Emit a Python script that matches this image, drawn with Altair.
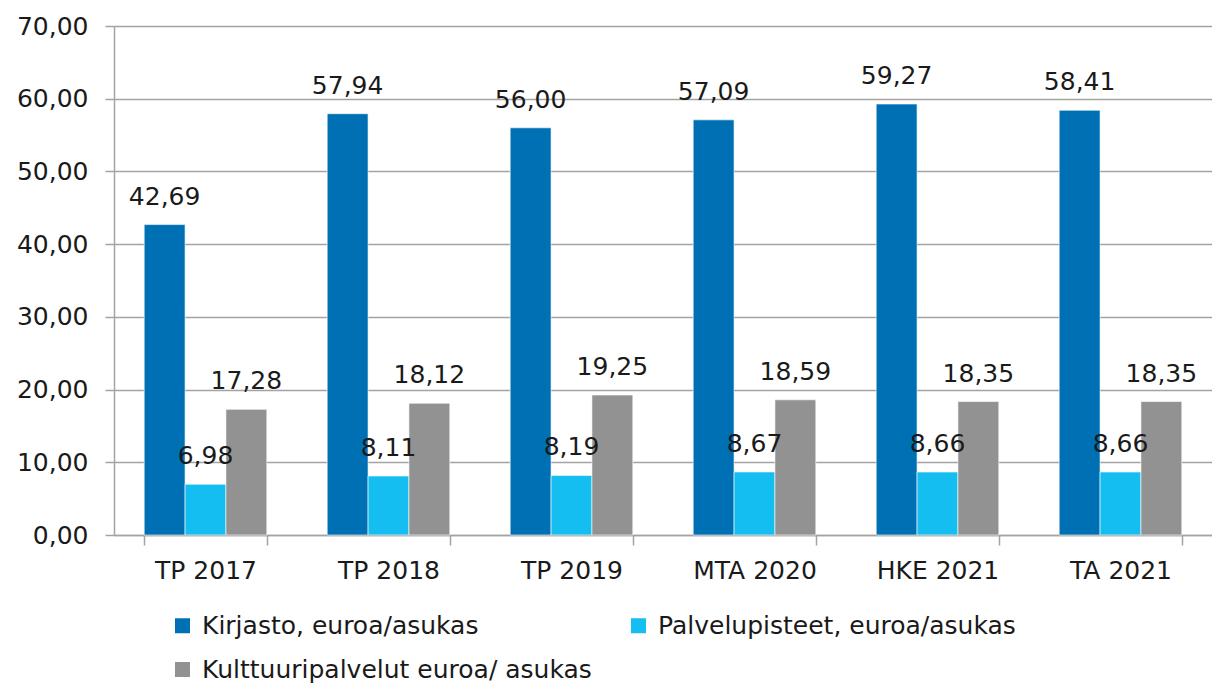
import altair as alt
import pandas as pd

categories = ["TP 2017", "TP 2018", "TP 2019", "MTA 2020", "HKE 2021", "TA 2021"]
series = ["Kirjasto, euroa/asukas", "Palvelupisteet, euroa/asukas", "Kulttuuripalvelut euroa/ asukas"]
kirjasto = [42.69, 57.94, 56.00, 57.09, 59.27, 58.41]
palvelupisteet = [6.98, 8.11, 8.19, 8.67, 8.66, 8.66]
kulttuuri = [17.28, 18.12, 19.25, 18.59, 18.35, 18.35]
colors = ["#0070B5", "#14BEF0", "#929292"]
y_ticks = [0, 10, 20, 30, 40, 50, 60, 70]

rows = []
for i, c in enumerate(categories):
    for s, vals in zip(series, [kirjasto, palvelupisteet, kulttuuri]):
        rows.append({"cat": c, "series": s, "value": vals[i]})
df = pd.DataFrame(rows)

FONT = "DejaVu Sans"
FS = 25
TXT = "#1a1a1a"
GRID = "#A3A3A3"

base = alt.Chart(df).encode(
    x=alt.X(
        "cat:N",
        sort=categories,
        scale=alt.Scale(paddingInner=0.33, paddingOuter=0.165),
        axis=alt.Axis(
            title=None, tickBand="extent", grid=False, labelAngle=0,
            labelFontSize=FS, labelFont=FONT, labelColor=TXT, labelPadding=13,
            tickSize=10, tickColor=GRID, tickWidth=1.5,
            domainColor=GRID, domainWidth=1.5,
        ),
    ),
    xOffset=alt.XOffset("series:N", sort=series, scale=alt.Scale(paddingInner=0, paddingOuter=0)),
    y=alt.Y(
        "value:Q",
        scale=alt.Scale(domain=[0, 70], nice=False),
        axis=alt.Axis(
            title=None, values=y_ticks,
            labelExpr="replace(format(datum.value, '.2f'), '.', ',')",
            labelFontSize=FS, labelFont=FONT, labelColor=TXT, labelPadding=17,
            tickSize=9, tickColor=GRID, tickWidth=1.5,
            grid=True, gridColor=GRID, gridWidth=1.5,
            domainColor=GRID, domainWidth=1.5,
        ),
    ),
)

bars = base.mark_bar(stroke="white", strokeWidth=0.6).encode(
    color=alt.Color(
        "series:N",
        sort=series,
        scale=alt.Scale(domain=series, range=colors),
        legend=alt.Legend(
            title=None, orient="none", legendX=56, legendY=587, columns=2,
            direction="horizontal",
            symbolType="square", symbolSize=225, symbolStrokeWidth=0,
            labelFontSize=FS, labelFont=FONT, labelColor=TXT, labelLimit=0,
            labelOffset=7, rowPadding=18, columnPadding=34,
        ),
    )
)

labels = base.mark_text(
    baseline="bottom", dy=-15, fontSize=FS, font=FONT, color=TXT
).transform_calculate(
    label="replace(format(datum.value, '.2f'), '.', ',')"
).encode(text="label:N")

chart = alt.layer(bars, labels).properties(
    width=1098, height=509,
    padding={"left": 8, "top": 6, "right": 0, "bottom": 0},
).configure_view(stroke=None)

chart.save("out.html", embed_options={"renderer": "svg", "actions": False})
